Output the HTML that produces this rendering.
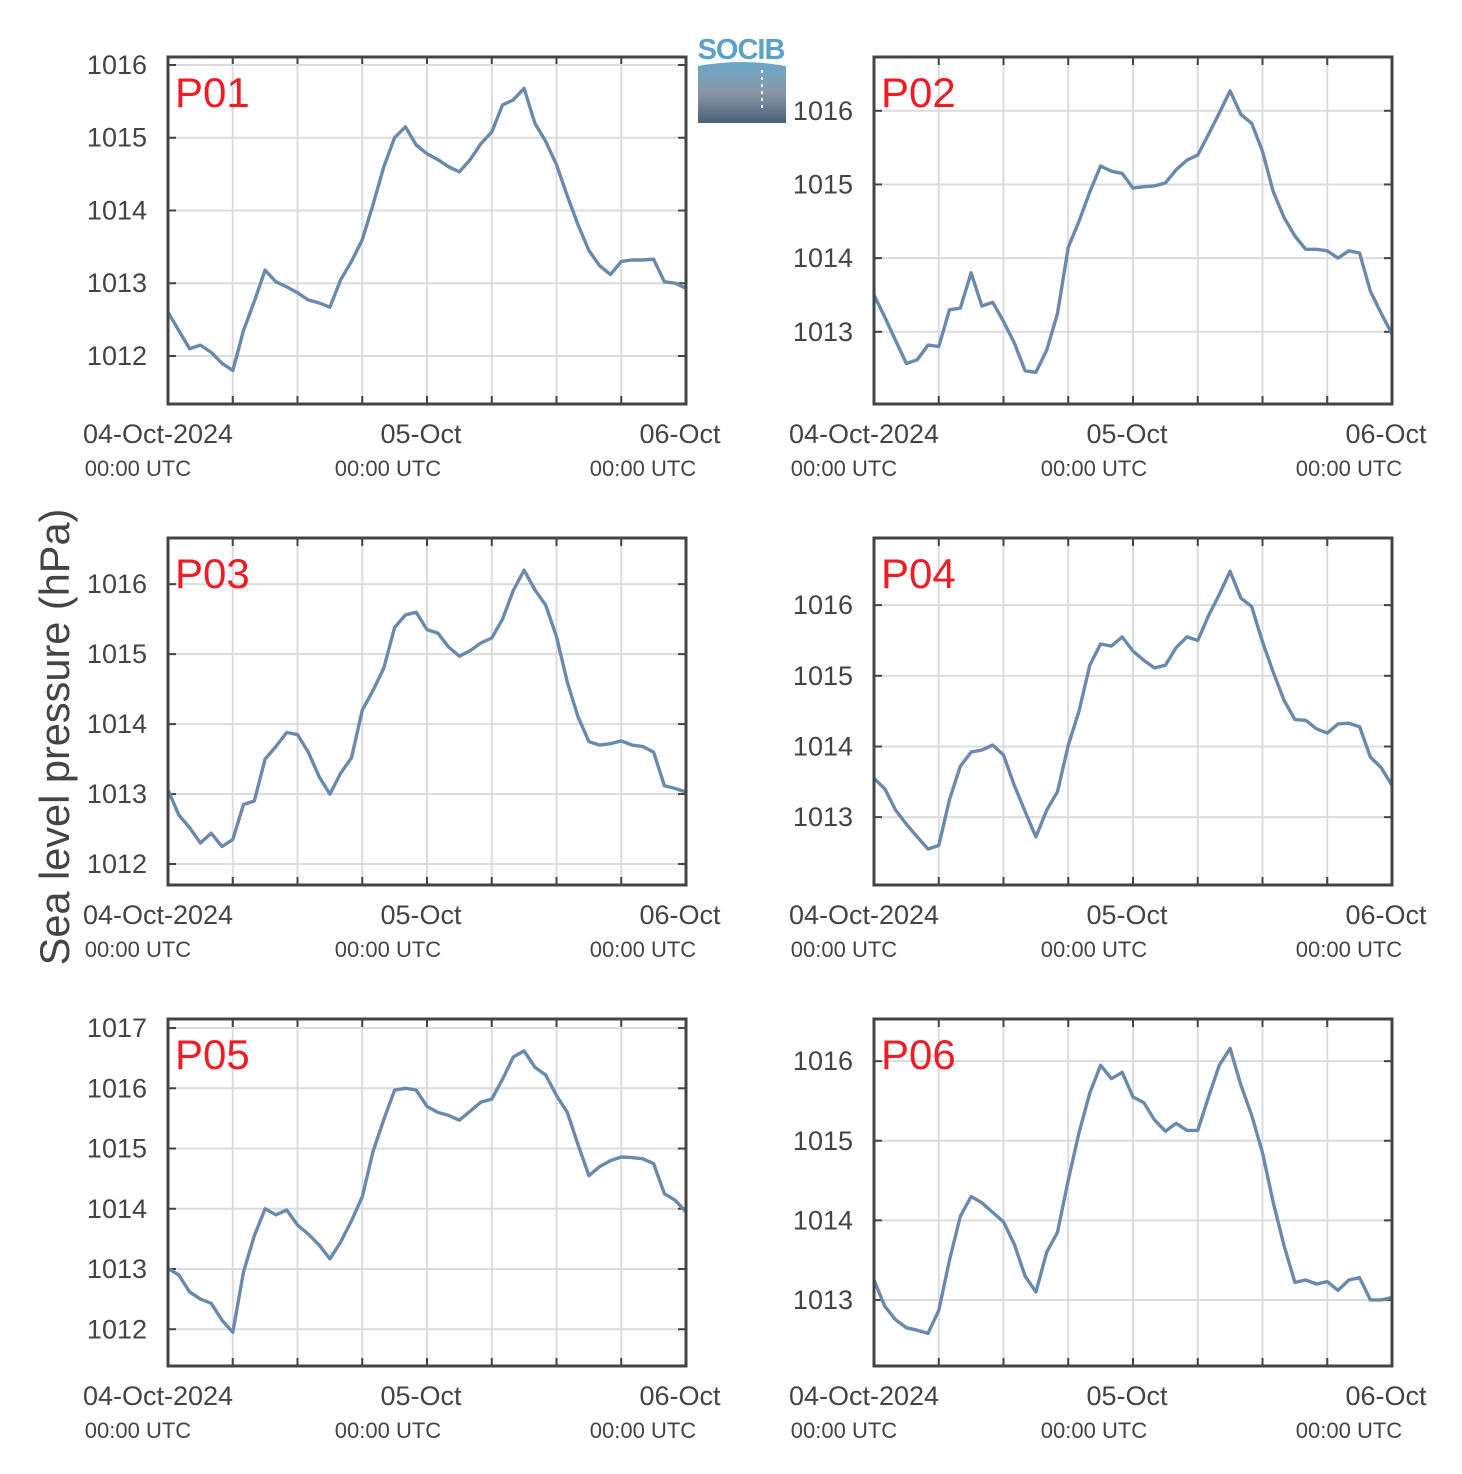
<!DOCTYPE html>
<html><head><meta charset="utf-8"><title>Sea level pressure</title>
<style>body{margin:0;background:#fff}svg{display:block;font-family:"Liberation Sans",sans-serif}</style></head>
<body>
<svg id="chart" width="1462" height="1474" viewBox="0 0 1462 1474" xmlns="http://www.w3.org/2000/svg">
<rect width="1462" height="1474" fill="#fff"/>
<text transform="translate(69,737) rotate(-90)" text-anchor="middle" font-size="41.5" fill="#444">Sea level pressure (hPa)</text>
<g>
<defs><linearGradient id="lg" x1="0" y1="0" x2="0" y2="1"><stop offset="0" stop-color="#6aa8cc"/><stop offset="0.5" stop-color="#8898a8"/><stop offset="1" stop-color="#4a6078"/></linearGradient></defs>
<text x="741" y="59" text-anchor="middle" font-size="29" fill="#5aa2cc" font-weight="bold" letter-spacing="-1">SOCIB</text>
<path d="M698 66 Q742 58 786 66 L786 123 L698 123 Z" fill="url(#lg)"/>
<line x1="762" y1="70" x2="762" y2="110" stroke="#fff" stroke-width="2" stroke-dasharray="3,4"/>
</g>
</svg>
<script>
const hours = [0,1,2,3,4,5,6,7,8,9,10,11,12,13,14,15,16,17,18,19,20,21,22,23,24,25,26,27,28,29,30,31,32,33,34,35,36,37,38,39,40,41,42,43,44,45,46,47,48];
const xTickTop = ["04-Oct-2024","05-Oct","06-Oct"];
const xTickBottom = ["00:00 UTC","00:00 UTC","00:00 UTC"];
const xTickHours = [0,24,48];
const panelNames = ["P01","P02","P03","P04","P05","P06"];
const p01 = [1012.6,1012.35,1012.1,1012.15,1012.05,1011.9,1011.8,1012.35,1012.75,1013.18,1013.02,1012.95,1012.87,1012.77,1012.73,1012.67,1013.05,1013.3,1013.6,1014.08,1014.6,1015.0,1015.15,1014.9,1014.78,1014.7,1014.6,1014.53,1014.7,1014.92,1015.08,1015.45,1015.52,1015.68,1015.2,1014.95,1014.63,1014.2,1013.8,1013.45,1013.24,1013.12,1013.3,1013.32,1013.32,1013.33,1013.02,1013.0,1012.93];
const p02 = [1013.5,1013.2,1012.88,1012.57,1012.62,1012.82,1012.8,1013.3,1013.32,1013.8,1013.35,1013.4,1013.14,1012.85,1012.47,1012.45,1012.75,1013.25,1014.15,1014.5,1014.9,1015.25,1015.18,1015.15,1014.95,1014.97,1014.98,1015.02,1015.2,1015.33,1015.4,1015.68,1015.97,1016.27,1015.95,1015.83,1015.45,1014.9,1014.55,1014.3,1014.12,1014.12,1014.1,1014.0,1014.1,1014.07,1013.55,1013.25,1012.97];
const p03 = [1013.06,1012.7,1012.52,1012.3,1012.44,1012.25,1012.35,1012.85,1012.9,1013.5,1013.68,1013.88,1013.85,1013.6,1013.25,1013.0,1013.3,1013.52,1014.2,1014.48,1014.8,1015.38,1015.56,1015.6,1015.35,1015.3,1015.1,1014.97,1015.05,1015.16,1015.23,1015.5,1015.91,1016.2,1015.92,1015.7,1015.25,1014.6,1014.1,1013.75,1013.7,1013.72,1013.76,1013.7,1013.68,1013.6,1013.12,1013.08,1013.03];
const p04 = [1013.55,1013.4,1013.1,1012.9,1012.72,1012.55,1012.6,1013.25,1013.72,1013.92,1013.95,1014.02,1013.88,1013.45,1013.08,1012.72,1013.1,1013.36,1014.02,1014.5,1015.15,1015.45,1015.42,1015.55,1015.35,1015.22,1015.11,1015.15,1015.4,1015.55,1015.5,1015.85,1016.15,1016.48,1016.1,1015.98,1015.48,1015.05,1014.65,1014.38,1014.37,1014.25,1014.19,1014.32,1014.33,1014.28,1013.85,1013.7,1013.45];
const p05 = [1013.01,1012.9,1012.62,1012.5,1012.43,1012.15,1011.95,1012.95,1013.55,1014.0,1013.9,1013.98,1013.73,1013.58,1013.4,1013.17,1013.45,1013.8,1014.2,1014.95,1015.48,1015.97,1016.0,1015.97,1015.7,1015.6,1015.55,1015.47,1015.62,1015.77,1015.82,1016.15,1016.52,1016.62,1016.35,1016.22,1015.88,1015.6,1015.06,1014.55,1014.7,1014.8,1014.86,1014.85,1014.83,1014.75,1014.25,1014.14,1013.95];
const p06 = [1013.25,1012.92,1012.75,1012.65,1012.62,1012.58,1012.87,1013.5,1014.05,1014.3,1014.22,1014.1,1013.98,1013.7,1013.3,1013.1,1013.6,1013.85,1014.51,1015.1,1015.6,1015.95,1015.78,1015.86,1015.55,1015.48,1015.26,1015.12,1015.22,1015.13,1015.13,1015.55,1015.95,1016.16,1015.7,1015.32,1014.85,1014.22,1013.68,1013.22,1013.25,1013.2,1013.23,1013.12,1013.25,1013.28,1013.0,1013.0,1013.03];
const yTicks01 = [1012,1013,1014,1015,1016];
const yTicks02 = [1013,1014,1015,1016];
const yTicks03 = [1012,1013,1014,1015,1016];
const yTicks04 = [1013,1014,1015,1016];
const yTicks05 = [1012,1013,1014,1015,1016,1017];
const yTicks06 = [1013,1014,1015,1016];
const yMin = [1011.34,1012.02,1011.7,1012.04,1011.39,1012.17];
const yMax = [1016.11,1016.73,1016.66,1016.95,1017.15,1016.53];

const NS="http://www.w3.org/2000/svg";
const svg=document.getElementById('chart');
function mk(tag,attrs,parent){const e=document.createElementNS(NS,tag);for(const k in attrs)e.setAttribute(k,attrs[k]);(parent||svg).appendChild(e);return e;}
const series=[p01,p02,p03,p04,p05,p06];
const ticks=[yTicks01,yTicks02,yTicks03,yTicks04,yTicks05,yTicks06];
const W=518,H=347;
const lefts=[168,874],tops=[57,538,1019];
series.forEach((vals,i)=>{
  const L=lefts[i%2],T=tops[Math.floor(i/2)];
  const g=mk('g',{});
  
  
  const xs=h=>L+h/48*W;
  const ys=v=>T+H-(v-yMin[i])/(yMax[i]-yMin[i])*H;
  for(let k=1;k<8;k++){const x=xs(k*6);
    const gl=mk('line',{x1:x,x2:x,y1:T,y2:T+H,stroke:'#dcdcdc','stroke-width':2},g);
    
    mk('line',{x1:x,x2:x,y1:T,y2:T+8,stroke:'#444','stroke-width':2},g);
    mk('line',{x1:x,x2:x,y1:T+H-8,y2:T+H,stroke:'#444','stroke-width':2},g);}
  ticks[i].forEach(v=>{const y=ys(v);
    const gl=mk('line',{x1:L,x2:L+W,y1:y,y2:y,stroke:'#dcdcdc','stroke-width':2},g);
    
    mk('line',{x1:L,x2:L+8,y1:y,y2:y,stroke:'#444','stroke-width':2},g);
    mk('line',{x1:L+W-8,x2:L+W,y1:y,y2:y,stroke:'#444','stroke-width':2},g);
    const t=mk('text',{x:L-21,y:y+9,'text-anchor':'end','font-size':27,fill:'#444'},g);
    
    t.textContent=v;});
  const d=vals.map((v,k)=>(k?'L':'M')+xs(hours[k]).toFixed(1)+' '+ys(v).toFixed(1)).join(' ');
  const p=mk('path',{d:d,fill:'none',stroke:'#6a8aad','stroke-width':3.4,'stroke-linejoin':'round'},g);
  
  
  const fr=mk('rect',{x:L,y:T,width:W,height:H,fill:'none',stroke:'#444','stroke-width':3},g);
  
  const lb=mk('text',{x:L+7,y:T+50,'font-size':42,fill:'#ee1c25'},g);
  
  lb.textContent=panelNames[i];
  const off=[-10,-6,-6],offB=[-30,-39,-43];
  xTickHours.forEach((h,k)=>{
    const t=mk('text',{x:xs(h)+off[k],y:T+H+39,'text-anchor':'middle','font-size':27,fill:'#444'},g);
    
    t.textContent=xTickTop[k];
    const u=mk('text',{x:xs(h)+offB[k],y:T+H+72,'text-anchor':'middle','font-size':22,fill:'#444'},g);
    
    u.textContent=xTickBottom[k];});
});
</script>
</body></html>
